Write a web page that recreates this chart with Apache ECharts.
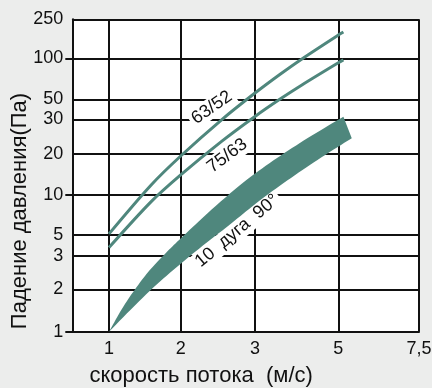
<!DOCTYPE html>
<html><head><meta charset="utf-8">
<script src="https://cdn.jsdelivr.net/npm/echarts@6/dist/echarts.min.js"></script>
<style>html,body{margin:0;padding:0;background:#ecedec}#c{width:432px;height:388px}</style>
</head><body><div id="c"></div>
<script>
// ---- tick values and labels ----
const xTicks = [1, 2, 3, 5, 7.5];
const xTickLabels = ['1', '2', '3', '5', '7,5'];
const yTicks = [1, 2, 3, 5, 10, 20, 30, 50, 100, 250];
const yTickLabels = ['1', '2', '3', '5', '10', '20', '30', '50', '100', '250'];
const yMarkedTicks = [1, 10, 100];

// ---- the original chart's irregular scales: where each tick sits along its axis ----
const xTickStops = [36.7, 108.4, 182.7, 266, 346.7];
const xAxisLength = 346.7;
const yTickStops = [0, 42.2, 75.7, 96.7, 136.7, 177.7, 212.2, 232.4, 273.4, 312.4];
const yAxisLength = 312.4;

// ---- series values: [speed m/s, pressure drop Pa] ----
const curve6352 = [[1, 5.1], [1.5, 11.8], [2, 19.33], [2.5, 29.9], [3, 55.6], [3.5, 76.4], [4, 99], [5, 172.7], [5.13, 185.5]];
const curve7563 = [[1, 3.69], [1.5, 8.88], [2, 14.05], [2.5, 23.2], [3, 32.4], [3.5, 50.2], [4, 63.7], [5, 92.7], [5.13, 97.3]];
const bendUpper = [[1, 1], [1.167, 1.576], [1.416, 2.356], [1.669, 2.965], [2.01, 4.7], [2.45, 8.56], [3, 14.38], [3.95, 22.76], [5.13, 32.2]];
const bendLower = [[1, 1], [1.486, 1.96], [2.1, 2.99], [2.59, 5.85], [3.19, 9.74], [4.2, 16.61], [5.35, 24.1]];

const curveLabelTexts = ['63/52', '75/63', '10  дуга  90°'];
const curveLabelAt = [[2.37, 40.6], [2.58, 19.4], [2.72, 5.36]];
const curveLabelAngles = [35, 37, 40];

// ---- scale helpers ----
function toAxis(v, ticks, stops) {
  let i = 0;
  while (i < ticks.length - 2 && v > ticks[i + 1]) i++;
  const l0 = Math.log(ticks[i]), l1 = Math.log(ticks[i + 1]);
  return stops[i] + (Math.log(v) - l0) / (l1 - l0) * (stops[i + 1] - stops[i]);
}
const toX = v => toAxis(v, xTicks, xTickStops);
const toY = v => toAxis(v, yTicks, yTickStops);
const mapPt = p => [toX(p[0]), toY(p[1])];
function nearestLabel(v, stops, labels) {
  let best = 0;
  for (let i = 1; i < stops.length; i++) if (Math.abs(stops[i] - v) < Math.abs(stops[best] - v)) best = i;
  return labels[best];
}
function spline(pts, n) {
  const out = [];
  for (let i = 0; i < pts.length - 1; i++) {
    const p0 = pts[Math.max(i - 1, 0)], p1 = pts[i], p2 = pts[i + 1], p3 = pts[Math.min(i + 2, pts.length - 1)];
    for (let k = 0; k < n; k++) {
      const t = k / n, t2 = t * t, t3 = t2 * t;
      const f = (a, b, c, d) => 0.5 * ((2 * b) + (-a + c) * t + (2 * a - 5 * b + 4 * c - d) * t2 + (-a + 3 * b - 3 * c + d) * t3);
      out.push([f(p0[0], p1[0], p2[0], p3[0]), f(p0[1], p1[1], p2[1], p3[1])]);
    }
  }
  out.push(pts[pts.length - 1]);
  return out;
}

const FONT = '"Liberation Sans", Arial, Helvetica, sans-serif';
const INK = '#111';
const TEAL = '#4f877d';

const chart = echarts.init(document.getElementById('c'), null, { renderer: 'canvas' });
chart.setOption({
  backgroundColor: '#ecedec',
  animation: false,
  grid: { left: 72.3, top: 19.3, width: xAxisLength, height: yAxisLength, show: true, backgroundColor: '#fff', borderWidth: 0, containLabel: false, outerBoundsMode: 'none' },
  xAxis: {
    type: 'value', min: 0, max: xAxisLength,
    axisLine: { show: true, onZero: false, lineStyle: { color: INK, width: 2 } },
    axisTick: { show: false, customValues: xTicks.map(toX) },
    axisLabel: { customValues: xTicks.map(toX), formatter: v => nearestLabel(v, xTickStops, xTickLabels), margin: 8, fontSize: 18, color: INK, fontFamily: FONT, hideOverlap: false },
    splitLine: { show: true, lineStyle: { color: INK, width: 2 } },
    name: 'скорость потока  (м/с)', nameLocation: 'middle', nameGap: 33, nameMoveOverlap: false,
    nameTextStyle: { fontSize: 22, color: INK, fontFamily: FONT, padding: [0, 89, 0, 0] }
  },
  yAxis: [{
    type: 'value', min: 0, max: yAxisLength,
    axisLine: { show: true, onZero: false, lineStyle: { color: INK, width: 2 } },
    axisTick: { show: false, customValues: yTicks.map(toY) },
    axisLabel: { customValues: yTicks.map(toY), formatter: v => nearestLabel(v, yTickStops, yTickLabels), margin: 9, fontSize: 18, color: INK, fontFamily: FONT, hideOverlap: false },
    splitLine: { show: true, lineStyle: { color: INK, width: 2 } },
    name: 'Падение давления(Па)', nameLocation: 'middle', nameGap: 41, nameMoveOverlap: false,
    nameTextStyle: { fontSize: 22, color: INK, fontFamily: FONT, padding: [0, 71, 0, 0] }
  }, {
    type: 'value', min: 0, max: yAxisLength, position: 'left',
    axisLine: { show: false },
    axisTick: { show: true, length: 7, customValues: yMarkedTicks.map(toY), lineStyle: { color: INK, width: 2 } },
    axisLabel: { show: false },
    splitLine: { show: false }
  }],
  series: [
    {
      type: 'custom', name: '10 дуга 90°', xAxisIndex: 0, yAxisIndex: 0, z: 3, silent: true,
      data: [[0, 0]],
      renderItem: (params, api) => {
        const up = spline(bendUpper.map(p => api.coord(mapPt(p))), 12);
        const lo = spline(bendLower.map(p => api.coord(mapPt(p))), 12).reverse();
        return { type: 'polygon', shape: { points: up.concat(lo) }, style: { fill: TEAL } };
      }
    },
    {
      type: 'line', name: '63/52', xAxisIndex: 0, yAxisIndex: 0, z: 3, silent: true,
      data: curve6352.map(mapPt), showSymbol: false, smooth: 0.3,
      lineStyle: { color: TEAL, width: 3 }
    },
    {
      type: 'line', name: '75/63', xAxisIndex: 0, yAxisIndex: 0, z: 3, silent: true,
      data: curve7563.map(mapPt), showSymbol: false, smooth: 0.3,
      lineStyle: { color: TEAL, width: 3 }
    },
    {
      type: 'custom', name: 'labels', xAxisIndex: 0, yAxisIndex: 0, z: 2, silent: true,
      data: curveLabelAt.map(mapPt),
      renderItem: (params, api) => {
        const p = api.coord([api.value(0), api.value(1)]);
        return {
          type: 'text', x: p[0], y: p[1], rotation: curveLabelAngles[params.dataIndex] * Math.PI / 180,
          style: { text: curveLabelTexts[params.dataIndex], fill: INK, fontSize: 18, fontFamily: FONT, align: 'center', verticalAlign: 'middle', backgroundColor: '#fff', padding: [1, 3] }
        };
      }
    }
  ]
});
</script></body></html>
